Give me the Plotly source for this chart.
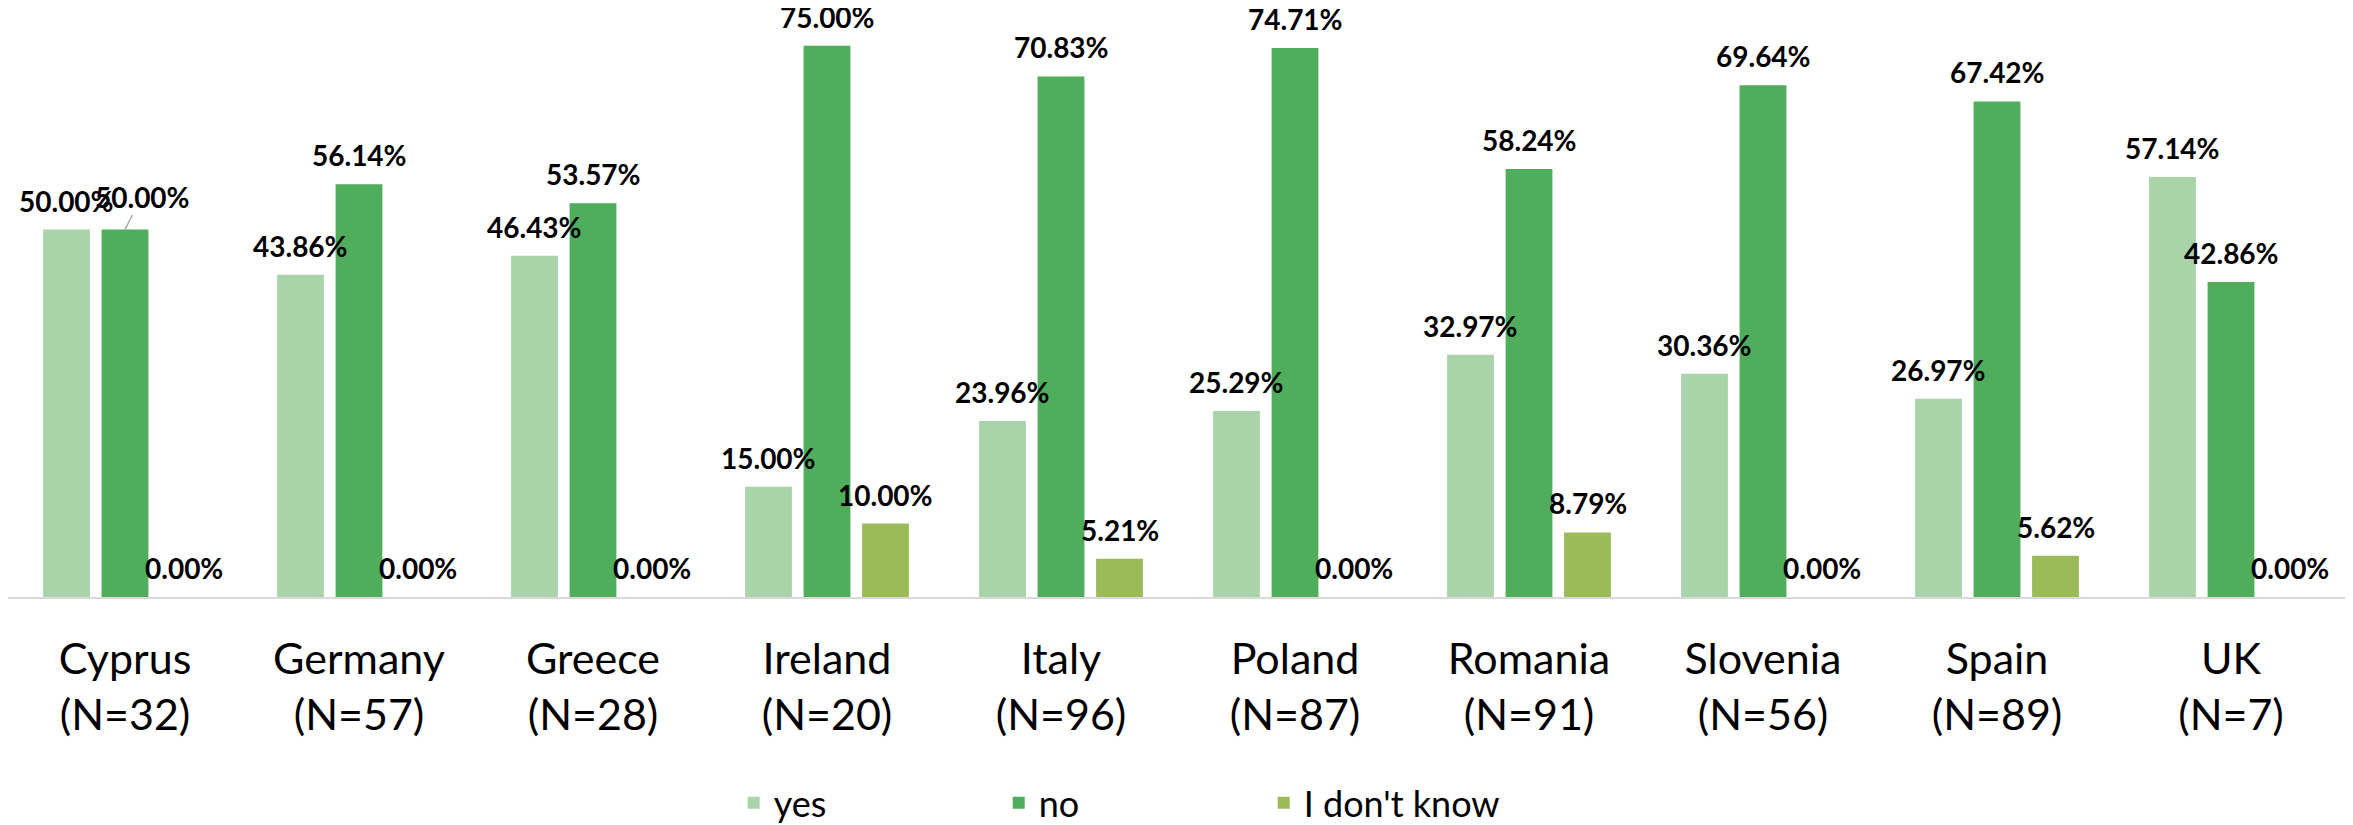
import plotly.graph_objects as go

countries = ["Cyprus", "Germany", "Greece", "Ireland", "Italy", "Poland", "Romania", "Slovenia", "Spain", "UK"]
sample_n = [32, 57, 28, 20, 96, 87, 91, 56, 89, 7]
yes_vals = [50.00, 43.86, 46.43, 15.00, 23.96, 25.29, 32.97, 30.36, 26.97, 57.14]
no_vals = [50.00, 56.14, 53.57, 75.00, 70.83, 74.71, 58.24, 69.64, 67.42, 42.86]
idk_vals = [0.00, 0.00, 0.00, 10.00, 5.21, 0.00, 8.79, 0.00, 5.62, 0.00]
series_names = ["yes", "no", "I don't know"]
colors = ["#a9d4a9", "#4fad5b", "#9bbb59"]

# the page body adds an 8px margin on the top and left
W, H = 2345, 817
ML, MR, MT, MB = 0, 5, 1, 228
BARGAP = 0.25
LABEL_FONT = dict(family="Lato", size=28, color="#000000")

cats = [f"{c}<br>(N={n})" for c, n in zip(countries, sample_n)]

def fmt(v):
    return f"{v:.2f}%"

fig = go.Figure()
all_vals = [yes_vals, no_vals, idk_vals]
for name, vals, col in zip(series_names, all_vals, colors):
    fig.add_trace(go.Bar(
        x=cats, y=vals, name=name,
        marker=dict(color=col, line=dict(width=0)),
        hoverinfo="skip",
    ))

# value labels above each bar
plot_w = W - ML - MR
slot = plot_w / len(cats) * (1 - BARGAP) / 3
for si, vals in enumerate(all_vals):
    for ci, v in enumerate(vals):
        if si == 1 and ci == 0:
            # Cyprus "no" label is moved aside with a leader line
            fig.add_annotation(
                x=cats[ci], y=v, xref="x", yref="y",
                text=f"<b>{fmt(v)}</b>",
                showarrow=True, arrowhead=0, arrowwidth=1.5, arrowcolor="#a6a6a6",
                ax=17, ay=-33, standoff=0,
                font=LABEL_FONT,
            )
            continue
        fig.add_annotation(
            x=cats[ci], y=v, xref="x", yref="y",
            xshift=(si - 1) * slot, yshift=10,
            yanchor="bottom", xanchor="center",
            text=f"<b>{fmt(v)}</b>", showarrow=False,
            font=LABEL_FONT,
        )

fig.update_layout(
    width=W, height=H,
    margin=dict(l=ML, r=MR, t=MT, b=MB, autoexpand=False),
    paper_bgcolor="white", plot_bgcolor="white",
    barmode="group", bargap=BARGAP, bargroupgap=0.2,
    showlegend=True,
    legend=dict(
        orientation="h", x=0.48, xanchor="center", y=-0.35, yanchor="middle",
        font=dict(family="Lato", size=36, color="#000000"),
        entrywidth=220, entrywidthmode="pixels",
        bgcolor="rgba(0,0,0,0)",
    ),
    font=dict(family="Lato"),
)
fig.update_xaxes(
    showline=True, linecolor="#d9d9d9", linewidth=2, automargin=False,
    showgrid=False, ticks="", ticklabelstandoff=23,
    tickfont=dict(family="Lato", size=43, color="#000000"),
)
fig.update_yaxes(
    range=[0, 80], visible=False, showgrid=False, zeroline=False, automargin=False,
)

fig.write_html("out.html")
